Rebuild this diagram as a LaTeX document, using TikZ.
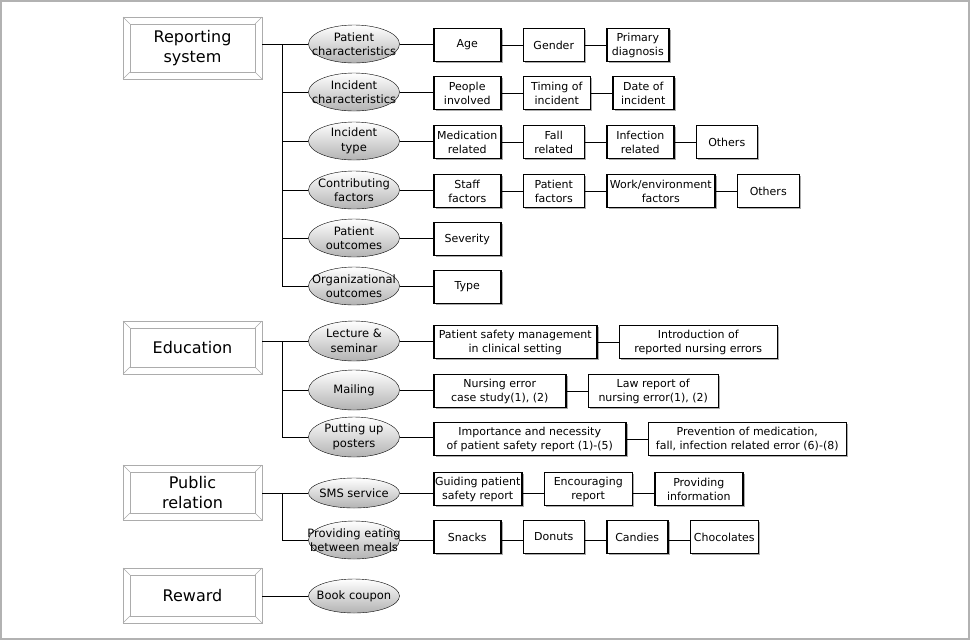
\documentclass[tikz,border=0pt]{standalone}
\usepackage{fontspec}
\setmainfont{DejaVu Sans}
\usetikzlibrary{positioning, shadows, shapes.geometric}

\begin{document}
\begin{tikzpicture}[
    x=1pt, y=-1pt,
    mainbox/.style={draw=gray!65, fill=white, minimum width=139pt,
                    minimum height=55pt, outer sep=0pt, align=center,
                    font=\fontsize{16}{20}\selectfont},
    subell/.style={draw, ellipse, top color=white, bottom color=gray!60,
                   minimum width=91pt, minimum height=38pt,
                   inner xsep=-15pt, inner ysep=0pt, align=center,
                   font=\fontsize{11.5}{14.5}\selectfont},
    itembox/.style={draw, line width=1.5pt, fill=white, minimum height=33pt,
                    inner xsep=1pt, align=center,
                    font=\fontsize{11}{14}\selectfont,
                    drop shadow={shadow xshift=1.8pt, shadow yshift=-1.8pt,
                                 fill=gray!65, opacity=1}},
    conn/.style={line width=0.8pt}
  ]
  \useasboundingbox (0,0) rectangle (971,641);
  \draw[gray!60, line width=1.5pt] (1,1) rectangle (969,639);

  % main categories
  \node[mainbox, minimum height=62pt] (rep) at (192.5,48) {Reporting\\system};
  \node[mainbox, minimum height=53pt] (edu) at (192.5,347.5) {Education};
  \node[mainbox] (pub) at (192.5,492.5) {Public\\relation};
  \node[mainbox] (rew) at (192.5,595.5) {Reward};
  \foreach \n in {rep, edu, pub, rew} {
    \draw[gray!65] ([xshift=7pt, yshift=-7pt]\n.north west)
      rectangle ([xshift=-7pt, yshift=7pt]\n.south east);
    \draw[gray!65] (\n.north west) -- ([xshift=7pt, yshift=-7pt]\n.north west)
      (\n.north east) -- ([xshift=-7pt, yshift=-7pt]\n.north east)
      (\n.south west) -- ([xshift=7pt, yshift=7pt]\n.south west)
      (\n.south east) -- ([xshift=-7pt, yshift=7pt]\n.south east);
  }

  % reporting system
  \node[subell] (pc) at (354,44) {Patient\\characteristics};
  \node[subell] (ic) at (354,92) {Incident\\characteristics};
  \node[subell] (it) at (354,141) {Incident\\type};
  \node[subell] (cf) at (354,190) {Contributing\\factors};
  \node[subell] (po) at (354,238) {Patient\\outcomes};
  \node[subell] (oo) at (354,286) {Organizational\\outcomes};

  \node[itembox, minimum width=67pt, anchor=west] (age) at (433,45) {Age};
  \node[itembox, minimum width=61pt, right=21pt of age] (gen) {Gender};
  \node[itembox, minimum width=62pt, right=21pt of gen] (diag) {Primary\\diagnosis};

  \node[itembox, minimum width=67pt, anchor=west] (ppl) at (433,93) {People\\involved};
  \node[itembox, minimum width=67pt, right=21pt of ppl] (tim) {Timing of\\incident};
  \node[itembox, minimum width=61pt, right=21pt of tim] (date) {Date of\\incident};

  \node[itembox, minimum width=67pt, anchor=west] (med) at (433,142) {Medication\\related};
  \node[itembox, minimum width=61pt, right=21pt of med] (fall) {Fall\\related};
  \node[itembox, minimum width=67pt, right=21pt of fall] (inf) {Infection\\related};
  \node[itembox, minimum width=61pt, right=21pt of inf] (oth1) {Others};

  \node[itembox, minimum width=67pt, anchor=west] (stf) at (433,191) {Staff\\factors};
  \node[itembox, minimum width=61pt, right=21pt of stf] (ptf) {Patient\\factors};
  \node[itembox, minimum width=108pt, right=21pt of ptf] (wrk) {Work/environment\\factors};
  \node[itembox, minimum width=62pt, right=21pt of wrk] (oth2) {Others};

  \node[itembox, minimum width=67pt, anchor=west] (sev) at (433,239) {Severity};
  \node[itembox, minimum width=67pt, anchor=west] (typ) at (433,287) {Type};

  \coordinate (rj) at (282,44);
  \draw[conn] (rep.east |- pc) -- (pc);
  \draw[conn] (rj) |- (oo);
  \foreach \e in {ic, it, cf, po} \draw[conn] (rj |- \e) -- (\e);
  \draw[conn] (pc) -- (pc -| age.west);
  \draw[conn] (age) -- (gen) -- (diag);
  \draw[conn] (ic) -- (ic -| ppl.west);
  \draw[conn] (ppl) -- (tim) -- (date);
  \draw[conn] (it) -- (it -| med.west);
  \draw[conn] (med) -- (fall) -- (inf) -- (oth1);
  \draw[conn] (cf) -- (cf -| stf.west);
  \draw[conn] (stf) -- (ptf) -- (wrk) -- (oth2);
  \draw[conn] (po) -- (po -| sev.west);
  \draw[conn] (oo) -- (oo -| typ.west);

  % education
  \node[subell, minimum height=40pt] (lec) at (354,341) {Lecture \&\\seminar};
  \node[subell, minimum height=40pt] (mail) at (354,390) {Mailing};
  \node[subell, minimum height=40pt] (post) at (354,437) {Putting up\\posters};

  \node[itembox, minimum width=163pt, anchor=west] (psm) at (433,342) {Patient safety management\\in clinical setting};
  \node[itembox, minimum width=158pt, right=21pt of psm] (intro) {Introduction of\\reported nursing errors};
  \node[itembox, minimum width=132pt, anchor=west] (case) at (433,391) {Nursing error\\case study(1), (2)};
  \node[itembox, minimum width=130pt, right=21pt of case] (law) {Law report of\\nursing error(1), (2)};
  \node[itembox, minimum width=192pt, anchor=west] (imp) at (433,439) {Importance and necessity\\of patient safety report (1)-(5)};
  \node[itembox, minimum width=198pt, right=21pt of imp] (prev) {Prevention of medication,\\fall, infection related error (6)-(8)};

  \coordinate (ej) at (282,341);
  \draw[conn] (edu.east |- lec) -- (lec);
  \draw[conn] (ej) |- (post);
  \draw[conn] (ej |- mail) -- (mail);
  \draw[conn] (lec) -- (lec -| psm.west);
  \draw[conn] (psm) -- (intro);
  \draw[conn] (mail) -- (mail -| case.west);
  \draw[conn] (case) -- (law);
  \draw[conn] (post) -- (post -| imp.west);
  \draw[conn] (imp) -- (prev);

  % public relation
  \node[subell, minimum height=30pt] (sms) at (354,493) {SMS service};
  \node[subell] (eat) at (354,540) {Providing eating\\between meals};

  \node[itembox, minimum width=88pt, anchor=west] (guide) at (433,489) {Guiding patient\\safety report};
  \node[itembox, minimum width=88pt, right=21pt of guide] (enc) {Encouraging\\report};
  \node[itembox, minimum width=88pt, right=21pt of enc] (info) {Providing\\information};
  \node[itembox, minimum width=67pt, anchor=west] (snk) at (433,537) {Snacks};
  \node[itembox, minimum width=61pt, right=21pt of snk] (don) {Donuts};
  \node[itembox, minimum width=61pt, right=21pt of don] (cnd) {Candies};
  \node[itembox, minimum width=68pt, right=21pt of cnd] (choc) {Chocolates};

  \coordinate (pj) at (282,493);
  \draw[conn] (pub.east |- sms) -- (sms);
  \draw[conn] (pj) |- (eat);
  \draw[conn] (sms) -- (sms -| guide.west);
  \draw[conn] (guide.east |- sms) -- (enc.west |- sms);
  \draw[conn] (enc.east |- sms) -- (info.west |- sms);
  \draw[conn] (eat) -- (eat -| snk.west);
  \draw[conn] (snk.east |- eat) -- (don.west |- eat);
  \draw[conn] (don.east |- eat) -- (cnd.west |- eat);
  \draw[conn] (cnd.east |- eat) -- (choc.west |- eat);

  % reward
  \node[subell, minimum height=34pt] (book) at (354,596) {Book coupon};
  \draw[conn] (rew.east |- book) -- (book);
\end{tikzpicture}
\end{document}
